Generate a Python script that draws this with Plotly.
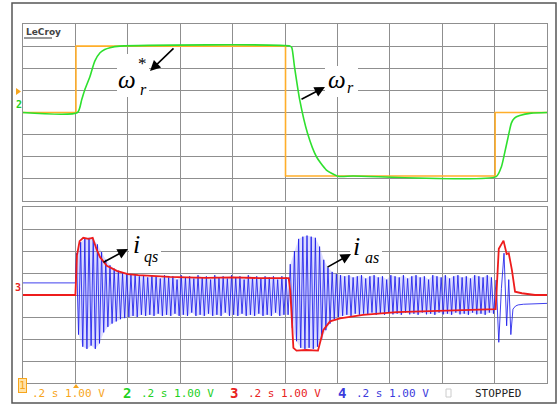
import plotly.graph_objects as go

W, H = 558, 405

# ---------------- data (time in divisions of 0.2 s, amplitude in divisions) -------------
# Top panel: speed reference (ch1) and actual speed (ch2)
REF_T = [0, 1.01, 1.01, 5.01, 5.01, 9.01, 9.01, 10]
REF_V = [0, 0, 3.0, 3.0, -2.87, -2.87, 0, 0]

SPD_T = [0, 1.04, 1.12, 1.18, 1.28, 1.37, 1.47, 1.56, 1.66, 1.85, 5.1, 5.13, 5.18, 5.28,
         5.43, 5.6, 5.79, 6.01, 6.3, 9.03, 9.13, 9.19, 9.26, 9.32, 9.38, 9.48, 9.7, 10]
SPD_V = [0, 0, 0.58, 1.03, 1.64, 2.32, 2.7, 2.85, 2.93, 3.0, 3.0, 2.93, 2.09, 0.58,
         -0.94, -2.0, -2.6, -2.88, -2.87, -2.9, -2.45, -1.85, -1.09, -0.48, -0.25, -0.14, -0.03, 0]

# Bottom panel: q-axis current (ch3, red)
IQS_T = [0, 1.0, 1.03, 1.08, 1.15, 1.25, 1.33, 1.40, 1.47, 1.60, 1.79, 2.0, 2.2, 2.49, 2.8,
         3.12, 3.5, 4.0, 4.5, 5.07, 5.1, 5.16, 5.22, 5.4, 5.63, 5.73, 5.86, 6.05, 6.49,
         7.13, 7.8, 8.5, 9.02, 9.08, 9.17, 9.23, 9.27, 9.33, 9.39, 9.52, 9.77, 10]
IQS_V = [0, 0, 1.8, 2.45, 2.6, 2.55, 2.6, 2.1, 1.72, 1.33, 1.1, 0.95, 0.9, 0.85, 0.82,
         0.8, 0.78, 0.8, 0.77, 0.77, 0.2, -2.4, -2.53, -2.5, -2.53, -1.6, -1.2, -1.06, -0.9,
         -0.78, -0.72, -0.66, -0.64, 2.1, 2.47, 1.86, 1.9, 1.14, 0.15, 0.08, 0.0, 0.0]

# Phase current (ch4, blue): flat before start, per-cycle peaks, then stop transient
IAS_PRE_T = [0, 1.0]
IAS_PRE_V = [0.55, 0.55]
CYCLE = 0.08          # one cycle of the sampled phase current, in divisions
ACC_START = 1.02
ACC_HI = [1.9, 2.4, 2.55, 2.6, 2.55, 2.3, 1.95, 1.6, 1.35, 1.2,
          1.1, 1.0, 0.95, 0.92, 0.95, 0.85, 0.9, 0.8, 0.9, 0.85,
          0.75, 0.9, 0.8, 0.85, 0.7, 0.9, 0.8, 0.85, 0.75, 0.9,
          0.8, 0.85, 0.7, 0.9, 0.8, 0.85, 0.75, 0.9, 0.8, 0.85,
          0.7, 0.9, 0.8, 0.85, 0.75, 0.85, 0.8, 0.85, 0.7, 0.85, 0.8]
ACC_LO = [-1.8, -2.35, -2.45, -2.3, -2.45, -2.2, -1.7, -1.45, -1.3, -1.2,
          -1.1, -1.05, -1.0, -0.95, -1.0, -0.9, -0.95, -0.9, -0.95, -0.85,
          -0.95, -0.9, -0.95, -0.85, -0.95, -0.9, -0.95, -0.8, -0.95, -0.9,
          -0.95, -0.85, -0.95, -0.9, -0.95, -0.8, -0.95, -0.9, -0.95, -0.85,
          -0.95, -0.9, -0.95, -0.85, -0.95, -0.9, -0.95, -0.8, -0.95, -0.9, -0.9]
REV_START = 5.10
REV_HI = [1.4, 2.0, 2.55, 2.65, 2.7, 2.65, 2.6, 2.2, 1.6, 1.25,
          1.05, 0.95, 0.9, 0.85, 0.9, 0.8, 0.85, 0.9, 0.75, 0.85,
          0.9, 0.8, 0.85, 0.7, 0.9, 0.85, 0.8, 0.9, 0.75, 0.85,
          0.9, 0.8, 0.85, 0.7, 0.9, 0.85, 0.8, 0.9, 0.75, 0.85,
          0.9, 0.8, 0.85, 0.75, 0.9, 0.85, 0.8, 0.9, 0.8]
REV_LO = [-1.5, -2.1, -2.4, -2.45, -2.4, -2.45, -2.35, -2.0, -1.6, -1.3,
          -1.1, -1.0, -0.95, -0.9, -0.95, -0.85, -0.9, -0.85, -0.9, -0.8,
          -0.9, -0.85, -0.9, -0.8, -0.88, -0.85, -0.9, -0.8, -0.88, -0.85,
          -0.9, -0.8, -0.88, -0.85, -0.9, -0.8, -0.88, -0.85, -0.9, -0.8,
          -0.88, -0.85, -0.9, -0.8, -0.88, -0.85, -0.9, -0.8, -0.85]
IAS_END_T = [9.03, 9.08, 9.13, 9.18, 9.23, 9.27, 9.31, 9.35, 9.40, 9.45, 9.55, 9.75, 10.0]
IAS_END_V = [0.68, -2.15, 0.3, 1.9, -1.4, 0.7, -1.8, -0.64, -0.5, -0.45, -0.42, -0.4, -0.38]

FOOTER = [("1", ".2 s 1.00 V", "#F7A51C"), ("2", ".2 s 1.00 V", "#22D022"),
          ("3", ".2 s 1.00 V", "#E8231E"), ("4", ".2 s 1.00 V", "#3B3BDC")]


def cycles(start, hi, lo):
    t, v = [], []
    for i, (a, b) in enumerate(zip(hi, lo)):
        t += [start + i * CYCLE, start + i * CYCLE + CYCLE / 2]
        v += [a, b]
    return t, v


def band(start, hi, lo):
    # light trace-persistence area between successive peaks and troughs
    th = [start + i * CYCLE for i in range(len(hi))]
    tl = [start + i * CYCLE + CYCLE / 2 for i in range(len(lo))]
    return th + tl[::-1], list(hi) + list(lo)[::-1]


acc_t, acc_v = cycles(ACC_START, ACC_HI, ACC_LO)
rev_t, rev_v = cycles(REV_START, REV_HI, REV_LO)
ias_t = IAS_PRE_T + acc_t + rev_t + IAS_END_T
ias_v = IAS_PRE_V + acc_v + rev_v + IAS_END_V


def px(x):
    return x / W


def py(y):
    return 1 - y / H


GRID = "#8f8f8f"
fig = go.Figure()

fig.add_trace(go.Scatter(x=REF_T, y=REF_V, mode="lines", xaxis="x", yaxis="y",
                         line=dict(color="#FFAE2A", width=1.6), hoverinfo="skip"))
fig.add_trace(go.Scatter(x=SPD_T, y=SPD_V, mode="lines", xaxis="x", yaxis="y",
                         line=dict(color="#2EE02E", width=1.6, shape="spline", smoothing=0.6),
                         hoverinfo="skip"))
for st, hi, lo in [(ACC_START, ACC_HI, ACC_LO), (REV_START, REV_HI, REV_LO)]:
    bt, bv = band(st, hi, lo)
    fig.add_trace(go.Scatter(x=bt, y=bv, mode="lines", xaxis="x2", yaxis="y2", fill="toself",
                             fillcolor="rgba(130,130,255,0.28)", line=dict(width=0),
                             hoverinfo="skip"))
fig.add_trace(go.Scatter(x=ias_t, y=ias_v, mode="lines", xaxis="x2", yaxis="y2",
                         line=dict(color="rgba(30,30,235,0.85)", width=1.0), hoverinfo="skip"))
fig.add_trace(go.Scatter(x=IQS_T, y=IQS_V, mode="lines", xaxis="x2", yaxis="y2",
                         line=dict(color="#EE1C1C", width=1.8), hoverinfo="skip"))

axis_common = dict(range=[0, 10], dtick=1, tick0=0, showgrid=True, gridcolor=GRID, gridwidth=1.2,
                   showline=True, mirror=True, linecolor=GRID, linewidth=1.2, zeroline=False,
                   showticklabels=False, ticks="", fixedrange=True)
yaxis_common = dict(axis_common, range=[-4, 4])

X0, X1 = px(23), px(547)
fig.update_layout(
    width=W, height=H, autosize=False, showlegend=False,
    margin=dict(l=0, r=0, t=0, b=0),
    paper_bgcolor="white", plot_bgcolor="white",
    xaxis=dict(axis_common, domain=[X0, X1], anchor="y"),
    yaxis=dict(yaxis_common, domain=[py(201), py(24)], anchor="x"),
    xaxis2=dict(axis_common, domain=[X0, X1], anchor="y2"),
    yaxis2=dict(yaxis_common, domain=[py(383), py(207)], anchor="x2"),
)

shapes = [
    dict(type="rect", xref="paper", yref="paper", x0=px(12), x1=px(556), y0=py(403), y1=py(3),
         line=dict(color="#555555", width=1.5), layer="above"),
    # white boxes behind the labels
    dict(type="rect", xref="paper", yref="paper", x0=px(117), x1=px(149), y0=py(97), y1=py(54),
         fillcolor="white", line=dict(width=0), layer="above"),
    dict(type="rect", xref="paper", yref="paper", x0=px(325), x1=px(358), y0=py(97), y1=py(66),
         fillcolor="white", line=dict(width=0), layer="above"),
    dict(type="rect", xref="paper", yref="paper", x0=px(129), x1=px(161), y0=py(266), y1=py(232),
         fillcolor="white", line=dict(width=0), layer="above"),
    dict(type="rect", xref="paper", yref="paper", x0=px(350), x1=px(382), y0=py(265), y1=py(235),
         fillcolor="white", line=dict(width=0), layer="above"),
    # LeCroy underline
    dict(type="line", xref="paper", yref="paper", x0=px(24), x1=px(52), y0=py(38), y1=py(38),
         line=dict(color="#555555", width=1.2)),
    # small box in footer
    dict(type="rect", xref="paper", yref="paper", x0=px(446), x1=px(451), y0=py(397), y1=py(389),
         line=dict(color="#cccccc", width=1)),
    # trigger marker at the bottom of the grid
    dict(type="path", xref="paper", yref="paper",
         path=f"M {px(73)},{py(388)} L {px(79)},{py(388)} L {px(76)},{py(384)} Z",
         fillcolor="#F7A51C", line=dict(width=0), layer="above"),
    # channel-1 ground marker on the left
    dict(type="path", xref="paper", yref="paper",
         path=f"M {px(16)},{py(88)} L {px(16)},{py(95)} L {px(21)},{py(91.5)} Z",
         fillcolor="#F7A51C", line=dict(width=0), layer="above"),
]
fig.update_layout(shapes=shapes)

ann = []


def text(x, y, s, size, color="black", family="DejaVu Sans Mono", **kw):
    ann.append(dict(xref="paper", yref="paper", x=px(x), y=py(y), text=s, showarrow=False,
                    font=dict(size=size, color=color, family=family),
                    xanchor=kw.pop("xanchor", "center"), yanchor=kw.pop("yanchor", "middle"), **kw))


def arrow(hx, hy, tx, ty):
    ann.append(dict(xref="paper", yref="paper", x=px(hx), y=py(hy), text="", showarrow=True,
                    ax=tx - hx, ay=ty - hy, axref="pixel", ayref="pixel",
                    arrowhead=2, arrowsize=1.3, arrowwidth=1.6, arrowcolor="black", standoff=0))


SERIF = "Liberation Serif"
# omega_r^*
text(127, 79, "<i>ω</i>", 25, family=SERIF)
text(142, 64, "*", 17, family=SERIF)
text(143, 89, "<i>r</i>", 16, family=SERIF)
arrow(150, 71, 175, 47)
# omega_r
text(337, 79, "<i>ω</i>", 25, family=SERIF)
text(350, 88, "<i>r</i>", 16, family=SERIF)
arrow(325, 87, 300, 100)
# i_qs
text(136, 244, "<i>i</i>", 26, family=SERIF)
text(151, 257, "<i>qs</i>", 16, family=SERIF)
arrow(128, 249, 102, 263)
# i_as
text(356, 246, "<i>i</i>", 26, family=SERIF)
text(372, 257, "<i>as</i>", 16, family=SERIF)
arrow(351, 254, 326, 268)

# LeCroy logo
text(24, 32, "<b>LeCroy</b>", 9, color="#444444", family="DejaVu Sans", xanchor="left")
# channel markers on the left
text(19, 104, "<b>2</b>", 10, color="#22D022")
text(18, 287, "<b>3</b>", 10, color="#E8231E")

# footer
fx = [[18, 30], [127, 139], [234, 246], [342, 354]]
for (num, s, col), (xn, xs) in zip(FOOTER, fx):
    if num == "1":
        ann.append(dict(xref="paper", yref="paper", x=px(xn), y=py(393), text="1", showarrow=False,
                        font=dict(size=11, color="#F7A51C", family="DejaVu Sans Mono"),
                        bgcolor="#FFE3A8", bordercolor="#F7A51C", borderwidth=1, borderpad=0))
    else:
        text(xn, 393, "<b>" + num + "</b>", 14, color=col)
    text(xs, 393, s, 11, color=col, xanchor="left")
text(473, 393, "STOPPED", 11, color="#222222", xanchor="left")

fig.update_layout(annotations=ann)
fig.write_html("out.html", config={"displayModeBar": False},
               post_script="document.body.style.margin='0';document.body.style.overflow='hidden';")
